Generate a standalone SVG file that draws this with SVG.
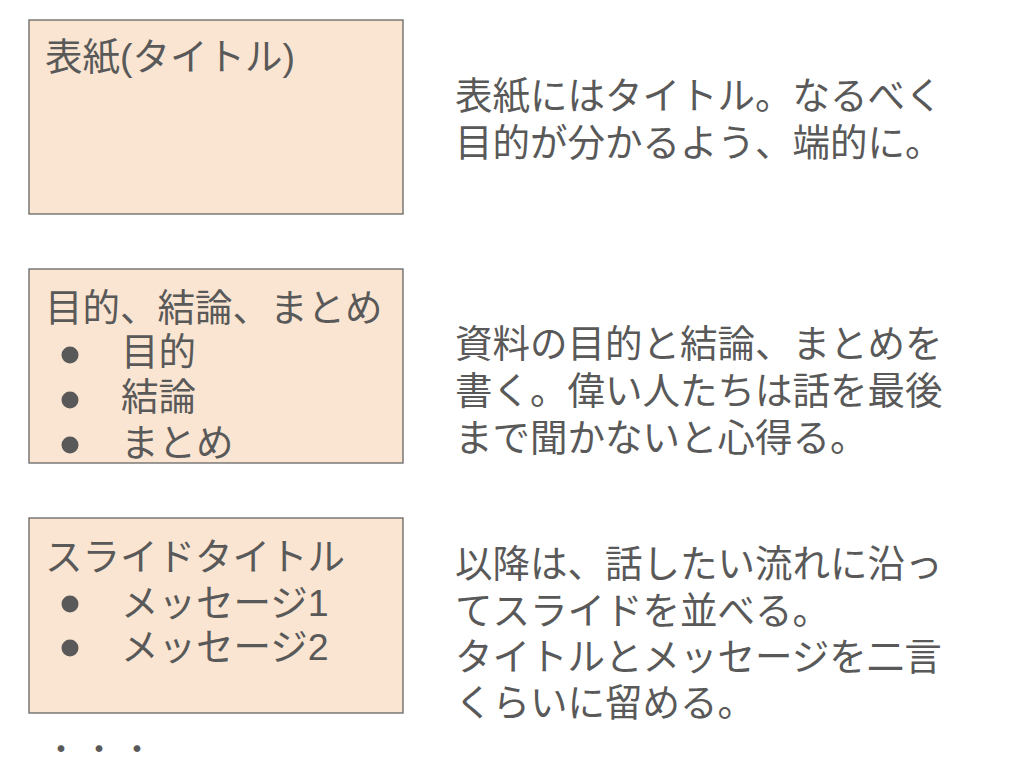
<svg xmlns="http://www.w3.org/2000/svg" width="1024" height="766" viewBox="0 0 1024 766">
<style>
.box{fill:#f9e5d1;stroke:#666666;stroke-width:1.3}
.t{font-family:"Liberation Sans","Noto Sans CJK JP",sans-serif;font-size:37.5px;fill:#595959}
.b{fill:#595959}
</style>
<rect width="1024" height="766" fill="#ffffff"/>
<g id="node-cover">
<rect class="box" x="29" y="20" width="374" height="194"/>
<text class="t" x="45" y="70">表紙(タイトル)</text>
</g>
<g id="node-purpose">
<rect class="box" x="29" y="269" width="374" height="194"/>
<text class="t" x="45" y="321">目的、結論、まとめ</text>
<circle class="b" cx="70" cy="355" r="8.5"/>
<text class="t" x="121" y="365">目的</text>
<circle class="b" cx="70" cy="400" r="8.5"/>
<text class="t" x="121" y="410">結論</text>
<circle class="b" cx="70" cy="445" r="8.5"/>
<text class="t" x="121" y="456">まとめ</text>
</g>
<g id="node-slide">
<rect class="box" x="29" y="518" width="374" height="195"/>
<text class="t" x="45" y="570">スライドタイトル</text>
<circle class="b" cx="70" cy="604" r="8.5"/>
<text class="t" x="121" y="616">メッセージ1</text>
<circle class="b" cx="70" cy="648" r="8.5"/>
<text class="t" x="121" y="660">メッセージ2</text>
</g>
<g id="node-ellipsis">
<text class="t" style="font-size:32px" x="61 99 137" y="761" text-anchor="middle">・・・</text>
</g>
<g id="desc-cover">
<text class="t" x="455" y="109">表紙にはタイトル。なるべく</text>
<text class="t" x="455" y="156">目的が分かるよう、端的に。</text>
</g>
<g id="desc-purpose">
<text class="t" x="455" y="357">資料の目的と結論、まとめを</text>
<text class="t" x="455" y="404">書く。偉い人たちは話を最後</text>
<text class="t" x="455" y="451">まで聞かないと心得る。</text>
</g>
<g id="desc-slide">
<text class="t" x="455" y="577">以降は、話したい流れに沿っ</text>
<text class="t" x="455" y="624">てスライドを並べる。</text>
<text class="t" x="455" y="670">タイトルとメッセージを二言</text>
<text class="t" x="455" y="716">くらいに留める。</text>
</g>
<g id="connectors"></g>
</svg>
